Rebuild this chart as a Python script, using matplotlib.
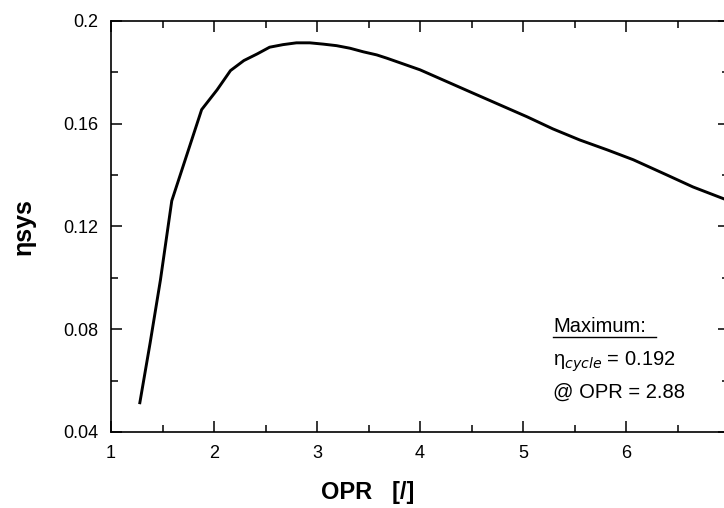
import numpy as np
from matplotlib import pyplot as plt
from matplotlib.ticker import MultipleLocator

plt.rcParams['font.family'] = ['Liberation Sans', 'DejaVu Sans']

# Кривая КПД системы в зависимости от OPR
opr = [1.28, 1.38, 1.48, 1.59, 1.88, 2.03, 2.16, 2.29, 2.42, 2.54, 2.67,
       2.80, 2.93, 3.06, 3.19, 3.32, 3.45, 3.58, 3.68, 4.0, 4.51, 5.04,
       5.29, 5.55, 5.82, 6.07, 6.40, 6.65, 7.0]
eta = [0.0514, 0.0747, 0.0992, 0.130, 0.1655, 0.1732, 0.1807, 0.1846,
       0.1872, 0.1898, 0.1908, 0.1915, 0.1915, 0.191, 0.1904, 0.1894,
       0.188, 0.1868, 0.1855, 0.181, 0.172, 0.1627, 0.158, 0.1537, 0.1498,
       0.146, 0.1400, 0.1354, 0.130]

x_ticks = [1, 2, 3, 4, 5, 6, 7]
y_ticks = [0.04, 0.08, 0.12, 0.16, 0.2]
y_labels = ['0.04', '0.08', '0.12', '0.16', '0.2']

fig = plt.figure(figsize=(7.24, 5.08), dpi=100)
ax = fig.add_axes([111 / 724, 76 / 508, 618 / 724, 411 / 508])

ax.plot(opr, eta, color='black', lw=2.1, solid_joinstyle='round')

ax.set_xlim(1, 7)
ax.set_ylim(0.04, 0.2)
ax.set_xticks(x_ticks)
ax.set_yticks(y_ticks)
ax.set_yticklabels(y_labels)
ax.xaxis.set_minor_locator(MultipleLocator(0.5))
ax.yaxis.set_minor_locator(MultipleLocator(0.02))
ax.tick_params(which='both', direction='in', top=True, right=True,
               width=1.1, labelsize=13)
ax.tick_params(which='major', length=8, pad=9)
ax.tick_params(which='minor', length=5)
for s in ax.spines.values():
    s.set_linewidth(1.2)

ax.set_ylabel('ηsys', fontsize=18, fontweight='bold', labelpad=20)
fig.text(368 / 724, 1 - 493 / 508, 'OPR   [/]', fontsize=17, fontweight='bold',
         ha='center', va='center')

fs = 14.5
fig.text(553 / 724, 1 - 327 / 508, 'Maximum:', fontsize=fs, ha='left',
         va='center')
fig.add_artist(plt.Line2D([553 / 724, 656 / 724],
                          [1 - 337 / 508, 1 - 337 / 508], color='black', lw=1))
fig.text(553 / 724, 1 - 362 / 508, r'η$_{\mathit{cycle}}$ = 0.192', fontsize=fs,
         ha='left', va='center')
fig.text(553 / 724, 1 - 392 / 508, '@ OPR = 2.88', fontsize=fs, ha='left',
         va='center')

fig.savefig('out.png', dpi=100)
